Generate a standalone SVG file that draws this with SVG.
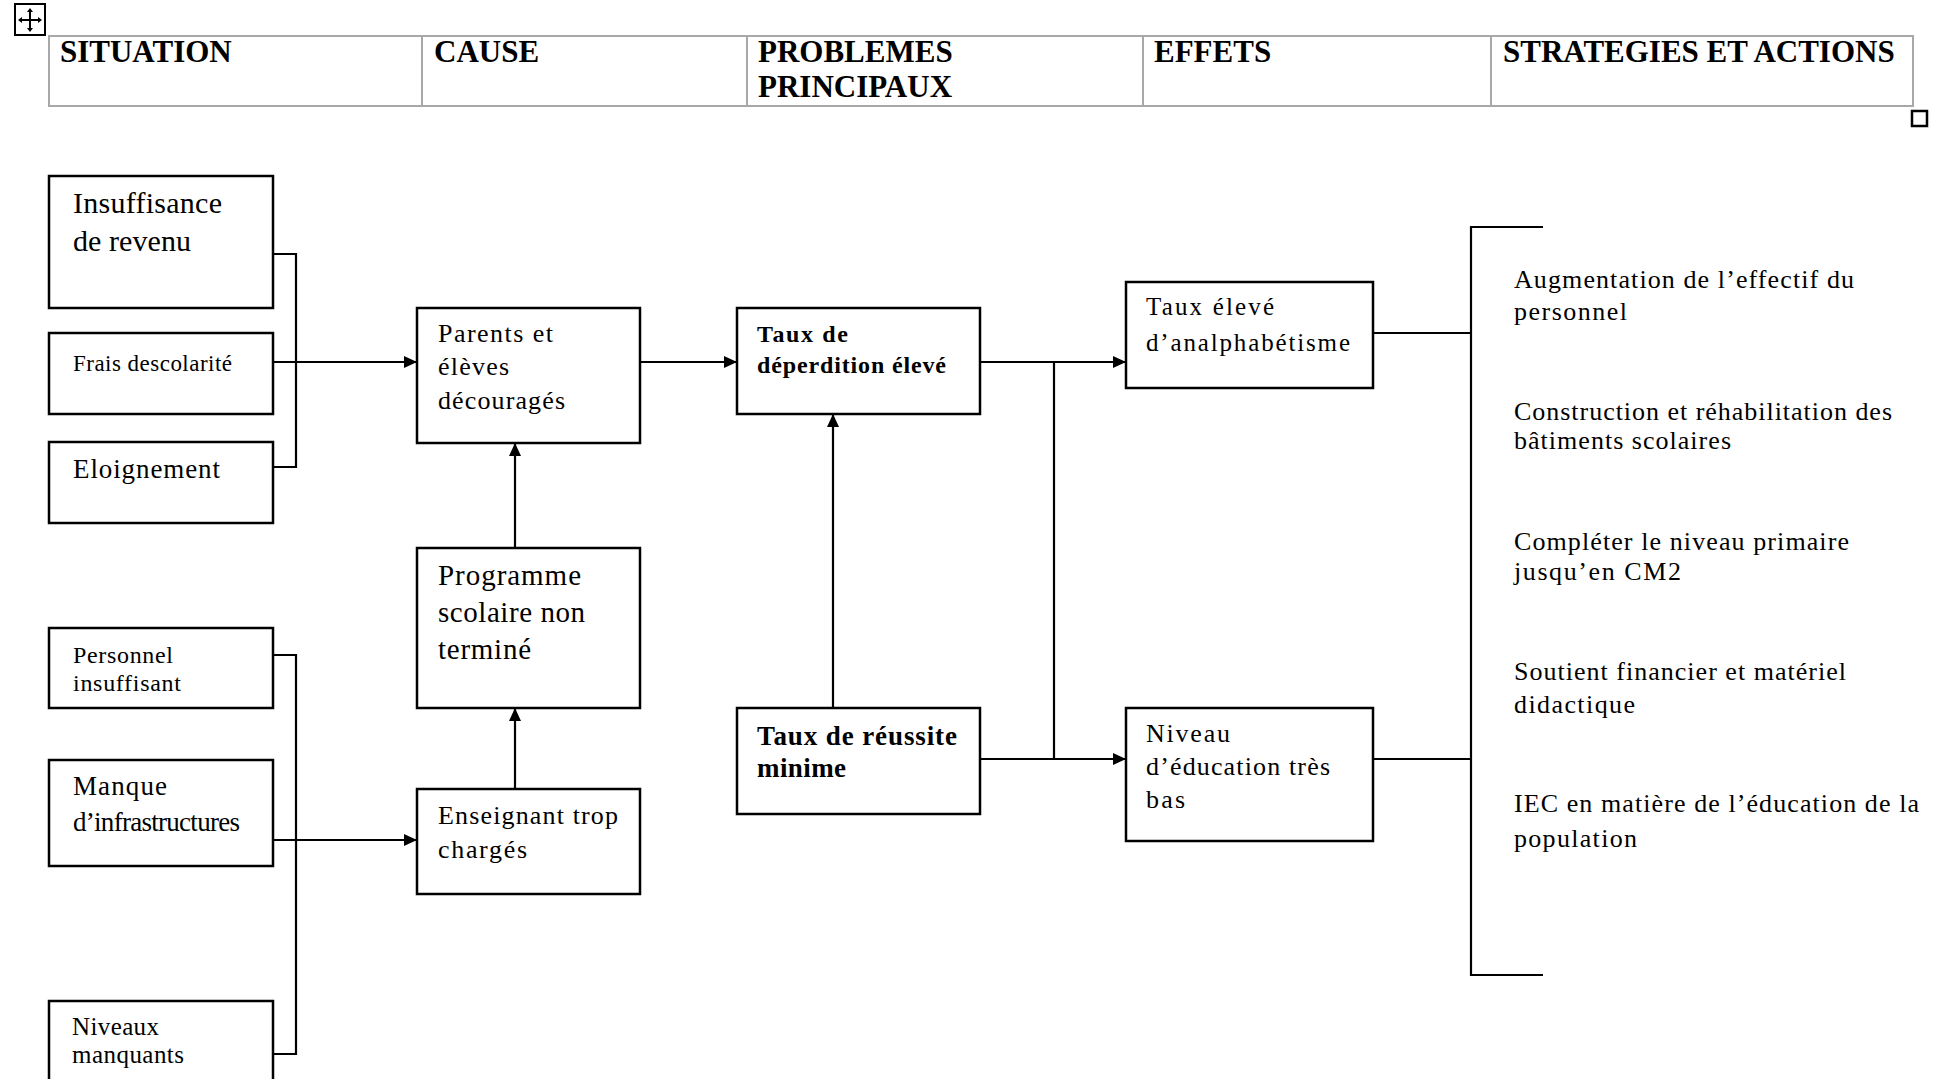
<svg xmlns="http://www.w3.org/2000/svg" width="1935" height="1079" viewBox="0 0 1935 1079">
<defs>
<marker id="arr" markerUnits="userSpaceOnUse" markerWidth="14" markerHeight="12" refX="13" refY="6" orient="auto">
<path d="M0,0 L13,6 L0,12 Z" fill="#000"/>
</marker>
<style>
.box{fill:#fff;stroke:#000;stroke-width:2.5}
.ln{fill:none;stroke:#000;stroke-width:2.2}
.t{font-family:"Liberation Serif","Times New Roman",serif;fill:#000}
.b{font-weight:bold}
.hd{font-family:"Liberation Serif","Times New Roman",serif;font-weight:bold;font-size:31px;fill:#000}
.grid{fill:none;stroke:#a8a8a8;stroke-width:2}
</style>
</defs>
<rect width="1935" height="1079" fill="#fff"/>

<g id="move-handle">
<rect x="15" y="4" width="30" height="31" fill="#fff" stroke="#000" stroke-width="2"/>
<path d="M30,10 V30 M20,20 H40" stroke="#000" stroke-width="2"/>
<path d="M30,8 L27,12 H33 Z M30,32 L27,28 H33 Z M18,20 L22,17 V23 Z M42,20 L38,17 V23 Z" fill="#000"/>
</g>

<g id="header">
<rect class="grid" x="49" y="36" width="1864" height="70"/>
<path class="grid" d="M422,36 V106 M747,36 V106 M1143,36 V106 M1491,36 V106"/>
<text class="hd" x="60" y="62">SITUATION</text>
<text class="hd" x="434" y="62">CAUSE</text>
<text class="hd" x="758" y="62">PROBLEMES</text>
<text class="hd" x="758" y="97">PRINCIPAUX</text>
<text class="hd" x="1154" y="62">EFFETS</text>
<text class="hd" x="1503" y="62">STRATEGIES ET ACTIONS</text>
</g>
<rect x="1912" y="111" width="15" height="15" fill="#fff" stroke="#000" stroke-width="2.5"/>

<g id="connectors">
<path class="ln" d="M273,254 H296 V467 H273"/>
<path class="ln" d="M273,362 H417" marker-end="url(#arr)"/>
<path class="ln" d="M640,362 H737" marker-end="url(#arr)"/>
<path class="ln" d="M980,362 H1126" marker-end="url(#arr)"/>
<path class="ln" d="M1054,362 V759"/>
<path class="ln" d="M980,759 H1126" marker-end="url(#arr)"/>
<path class="ln" d="M833,708 V414" marker-end="url(#arr)"/>
<path class="ln" d="M515,548 V443" marker-end="url(#arr)"/>
<path class="ln" d="M515,789 V708" marker-end="url(#arr)"/>
<path class="ln" d="M273,655 H296 V1054 H273"/>
<path class="ln" d="M273,840 H417" marker-end="url(#arr)"/>
<path class="ln" d="M1373,333 H1471 M1373,759 H1471"/>
<path class="ln" d="M1543,227 H1471 V975 H1543"/>
</g>

<g id="insuffisance">
<rect class="box" x="49" y="176" width="224" height="132"/>
<text class="t" font-size="30" x="73" y="213" textLength="149">Insuffisance</text>
<text class="t" font-size="30" x="73" y="251" textLength="118">de revenu</text>
</g>
<g id="frais">
<rect class="box" x="49" y="333" width="224" height="81"/>
<text class="t" font-size="23" x="73" y="371" textLength="159">Frais descolarité</text>
</g>
<g id="eloignement">
<rect class="box" x="49" y="442" width="224" height="81"/>
<text class="t" font-size="27" x="73" y="478" textLength="147">Eloignement</text>
</g>
<g id="personnel">
<rect class="box" x="49" y="628" width="224" height="80"/>
<text class="t" font-size="24" x="73" y="663" textLength="100">Personnel</text>
<text class="t" font-size="24" x="73" y="691" textLength="108">insuffisant</text>
</g>
<g id="manque">
<rect class="box" x="49" y="760" width="224" height="106"/>
<text class="t" font-size="27" x="73" y="795" textLength="94">Manque</text>
<text class="t" font-size="27" x="73" y="831" textLength="167">d’infrastructures</text>
</g>
<g id="niveaux">
<rect class="box" x="49" y="1001" width="224" height="100"/>
<text class="t" font-size="25" x="72" y="1035" textLength="87">Niveaux</text>
<text class="t" font-size="25" x="72" y="1063" textLength="112">manquants</text>
</g>

<g id="parents">
<rect class="box" x="417" y="308" width="223" height="135"/>
<text class="t" font-size="26" x="438" y="342" textLength="115">Parents et</text>
<text class="t" font-size="26" x="438" y="375" textLength="71">élèves</text>
<text class="t" font-size="26" x="438" y="409" textLength="127">découragés</text>
</g>
<g id="programme">
<rect class="box" x="417" y="548" width="223" height="160"/>
<text class="t" font-size="29" x="438" y="585" textLength="143">Programme</text>
<text class="t" font-size="29" x="438" y="622" textLength="147">scolaire non</text>
<text class="t" font-size="29" x="438" y="659" textLength="93">terminé</text>
</g>
<g id="enseignant">
<rect class="box" x="417" y="789" width="223" height="105"/>
<text class="t" font-size="26" x="438" y="824" textLength="180">Enseignant trop</text>
<text class="t" font-size="26" x="438" y="858" textLength="89">chargés</text>
</g>

<g id="deperdition">
<rect class="box" x="737" y="308" width="243" height="106"/>
<text class="t b" font-size="24" x="757" y="342" textLength="91">Taux de</text>
<text class="t b" font-size="24" x="757" y="373" textLength="189">déperdition élevé</text>
</g>
<g id="reussite">
<rect class="box" x="737" y="708" width="243" height="106"/>
<text class="t b" font-size="27" x="757" y="745" textLength="200">Taux de réussite</text>
<text class="t b" font-size="27" x="757" y="777" textLength="89">minime</text>
</g>

<g id="analphabetisme">
<rect class="box" x="1126" y="282" width="247" height="106"/>
<text class="t" font-size="25" x="1146" y="315" textLength="128">Taux élevé</text>
<text class="t" font-size="25" x="1146" y="351" textLength="204">d’analphabétisme</text>
</g>
<g id="niveau-education">
<rect class="box" x="1126" y="708" width="247" height="133"/>
<text class="t" font-size="26" x="1146" y="742" textLength="84">Niveau</text>
<text class="t" font-size="26" x="1146" y="775" textLength="184">d’éducation très</text>
<text class="t" font-size="26" x="1146" y="808" textLength="39">bas</text>
</g>

<g id="strategies">
<text class="t" font-size="26" x="1514" y="288" textLength="340">Augmentation de l’effectif du</text>
<text class="t" font-size="26" x="1514" y="320" textLength="113">personnel</text>
<text class="t" font-size="26" x="1514" y="420" textLength="378">Construction et réhabilitation des</text>
<text class="t" font-size="26" x="1514" y="449" textLength="217">bâtiments scolaires</text>
<text class="t" font-size="26" x="1514" y="550" textLength="335">Compléter le niveau primaire</text>
<text class="t" font-size="26" x="1514" y="580" textLength="167">jusqu’en CM2</text>
<text class="t" font-size="26" x="1514" y="680" textLength="332">Soutient financier et matériel</text>
<text class="t" font-size="26" x="1514" y="713" textLength="121">didactique</text>
<text class="t" font-size="26" x="1514" y="812" textLength="405">IEC en matière de l’éducation de la</text>
<text class="t" font-size="26" x="1514" y="847" textLength="123">population</text>
</g>
</svg>
